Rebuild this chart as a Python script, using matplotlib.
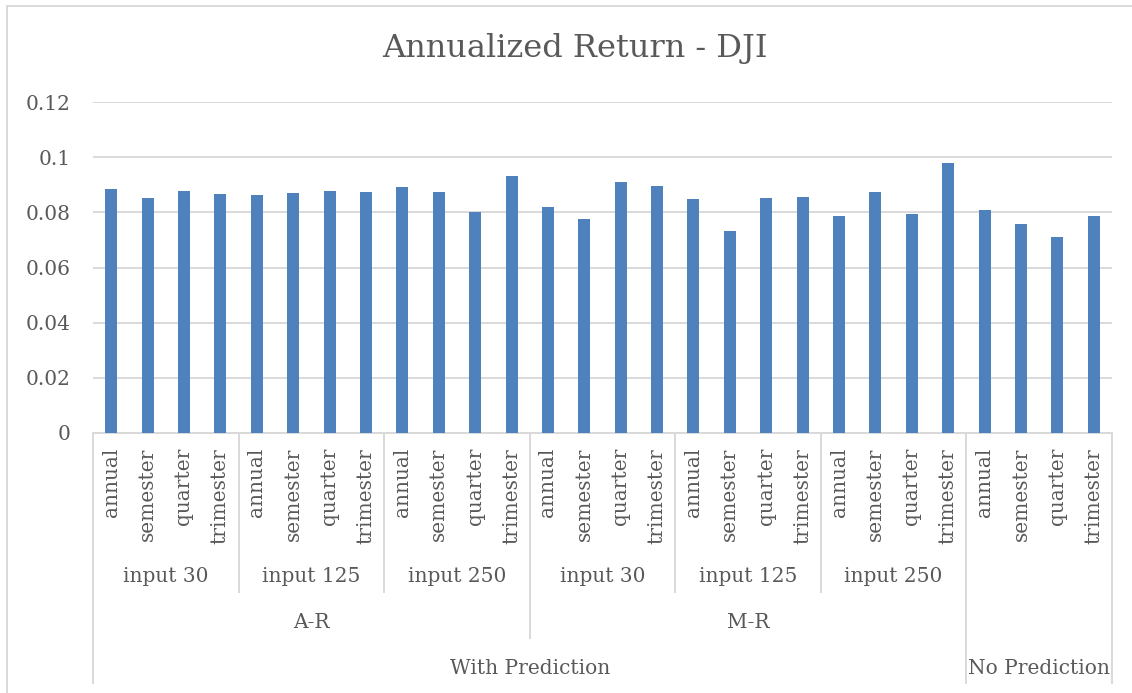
import matplotlib.pyplot as plt
from matplotlib.patches import Rectangle

# data
periods = ["annual", "semester", "quarter", "trimester"]
inputs = ["input 30", "input 125", "input 250"]
methods = ["A-R", "M-R"]
returns_ar = [0.0884, 0.0853, 0.0878, 0.0868,
              0.0863, 0.0870, 0.0878, 0.0875,
              0.0893, 0.0875, 0.0803, 0.0933]
returns_mr = [0.0819, 0.0777, 0.0911, 0.0897,
              0.0848, 0.0732, 0.0851, 0.0855,
              0.0786, 0.0875, 0.0795, 0.0978]
returns_nopred = [0.0807, 0.0757, 0.0709, 0.0786]

values = returns_ar + returns_mr + returns_nopred
labels = periods * 7
n = len(values)

text_col = "#595959"
line_col = "#d9d9d9"
plt.rcParams["font.family"] = "DejaVu Serif"
fs = 14.5

fig = plt.figure(figsize=(11.32, 6.93), dpi=100)
ax = fig.add_axes([93 / 1132, 1 - 433 / 693, (1112 - 93) / 1132, (433 - 102) / 693])

x = list(range(n))
ax.bar(x, values, width=0.33, color="#4f81bd", zorder=3)
ax.set_xlim(-0.5, n - 0.5)
ax.set_ylim(0, 0.12)
ax.set_yticks([0, 0.02, 0.04, 0.06, 0.08, 0.1, 0.12])
ax.set_yticklabels(["0", "0.02", "0.04", "0.06", "0.08", "0.1", "0.12"])
ax.grid(axis="y", color=line_col, linewidth=1.4, zorder=0)
for s in ["top", "right", "left"]:
    ax.spines[s].set_visible(False)
ax.spines["bottom"].set_color(line_col)
ax.spines["bottom"].set_linewidth(1.4)
ax.tick_params(axis="y", length=0, labelsize=fs, labelcolor=text_col, pad=16)
ax.set_xticks([])

ax_h = 433 - 102
def yax(py):
    # pixel row in figure -> axes fraction
    return (433 - py) / ax_h

tr = ax.get_xaxis_transform()

# rotated period labels
for i, lab in enumerate(labels):
    ax.text(i, yax(448), lab, transform=tr, rotation=90, ha="center", va="top",
            fontsize=fs, color=text_col, clip_on=False)

# input group labels (6 groups of 4)
for g in range(6):
    ax.text(g * 4 + 1.5, yax(577), inputs[g % 3], transform=tr, ha="center", va="center",
            fontsize=fs, color=text_col, clip_on=False)
# method labels
for m, name in enumerate(methods):
    ax.text(m * 12 + 5.5, yax(623), name, transform=tr, ha="center", va="center",
            fontsize=fs, color=text_col, clip_on=False)
ax.text(11.5, yax(668), "With Prediction", transform=tr, ha="center", va="center",
        fontsize=fs, color=text_col, clip_on=False)
ax.text(25.5, yax(668), "No Prediction", transform=tr, ha="center", va="center",
        fontsize=fs, color=text_col, clip_on=False)

# separator lines of the multi-level axis
def sep(xpos, bottom_px):
    ax.plot([xpos, xpos], [0, yax(bottom_px)], transform=tr, color=line_col,
            linewidth=1.4, clip_on=False)

sep(-0.5, 683)
sep(n - 0.5, 683)
sep(23.5, 683)
sep(11.5, 638)
for b in [3.5, 7.5, 15.5, 19.5]:
    sep(b, 592)

fig.text(575 / 1132, 1 - 48 / 693, "Annualized Return - DJI", fontsize=23,
         color=text_col, ha="center", va="center")

# chart border (right and bottom edges fall outside the image)
fig.patches.append(Rectangle((7 / 1132, -0.1), 1.2, 1 - 6 / 693 + 0.1,
                             transform=fig.transFigure, fill=False,
                             edgecolor=line_col, linewidth=1.4))

fig.savefig("out.png", dpi=100)
